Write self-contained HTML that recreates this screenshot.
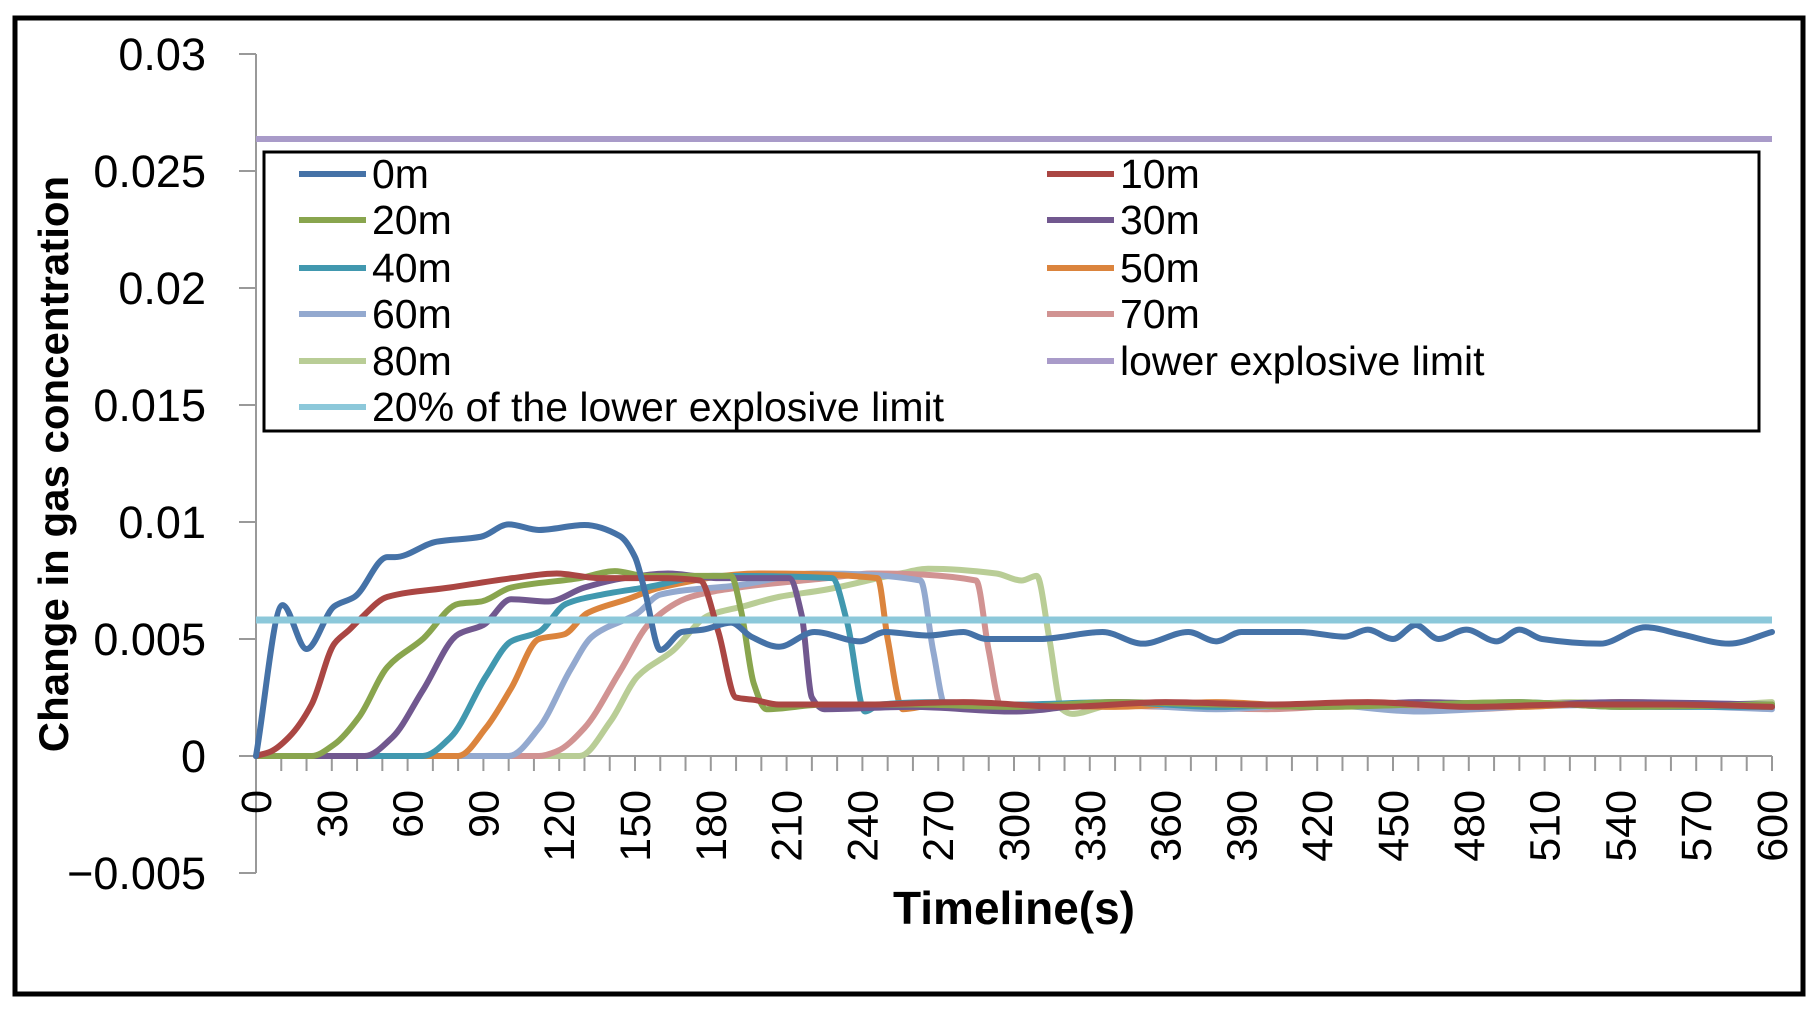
<!DOCTYPE html>
<html><head><meta charset="utf-8"><style>
html,body{margin:0;padding:0;background:#fff;}
body{width:1818px;height:1018px;overflow:hidden;font-family:"Liberation Sans",sans-serif;}
svg text{font-family:"Liberation Sans",sans-serif;}
</style></head><body>
<svg id="chart" width="1818" height="1018" xmlns="http://www.w3.org/2000/svg">
<rect x="15" y="18" width="1788" height="976" fill="#fff" stroke="#000" stroke-width="5"/>
<g id="axes"></g>
<g id="series"></g>
<g id="legend"></g>
<text transform="translate(68,464) rotate(-90)" text-anchor="middle" font-size="42" font-weight="bold">Change in gas concentration</text>
<text x="1014" y="924" text-anchor="middle" font-size="46" font-weight="bold">Timeline(s)</text>
</svg>
<script>
const yTicks=[0.03,0.025,0.02,0.015,0.01,0.005,0,-0.005];
const yTickLabels=["0.03","0.025","0.02","0.015","0.01","0.005","0","\u22120.005"];
const xTicks=[0,30,60,90,120,150,180,210,240,270,300,330,360,390,420,450,480,510,540,570,600];
const seriesNames=["0m","10m","20m","30m","40m","50m","60m","70m","80m"];
const colors=["#4572A7","#AA4643","#89A54E","#71588F","#4198AF","#DB843D","#93A9CF","#D19392","#B9CD96"];
const lelValue=0.02637;
const lel20Value=0.00581;
const t0=[0,10.5,20,31,39,52,55,71.5,89,100,112,130,144,150,154,160,168.6,177,188,196,207,221,239,249,266,280,289,310,335,351,369,380,390,413,431,440,450,459,468,479,491,500,509,532,550,564,583,600];
const v0=[0,0.00645,0.00457,0.0064,0.0068,0.0085,0.0085,0.00916,0.00937,0.0099,0.00966,0.00987,0.0094,0.0085,0.007,0.00453,0.0053,0.0054,0.0057,0.0051,0.00467,0.0053,0.0049,0.0053,0.00515,0.0053,0.005,0.005,0.0053,0.0048,0.0053,0.0049,0.0053,0.0053,0.0051,0.0054,0.005,0.0056,0.005,0.0054,0.0049,0.0054,0.005,0.0048,0.0055,0.0052,0.0048,0.0053];
const t10=[0,6,13,22,31,37,40.7,52,76.7,101.5,119,136,160,175.7,183,190,197,207,240,280,320,360,400,440,480,520,560,600];
const v10=[0,0.0002,0.0008,0.0022,0.0048,0.0054,0.0058,0.0068,0.0072,0.0076,0.0078,0.0076,0.0076,0.0075,0.0053,0.0025,0.0024,0.0022,0.0022,0.0023,0.0021,0.0023,0.0022,0.0023,0.0021,0.0022,0.0022,0.0021];
const t20=[0,22,31,41,52,66,80,89,101,128,142,154,188,192,197,202,225,260,300,340,380,420,460,500,540,600];
const v20=[0,0,0.0005,0.0017,0.0038,0.005,0.0065,0.0066,0.0072,0.0076,0.0079,0.0077,0.0077,0.0062,0.0031,0.002,0.0022,0.0022,0.0021,0.0023,0.0022,0.0021,0.0022,0.0023,0.0021,0.0022];
const t30=[0,43,54,66,80,90,101,115.6,130,145.6,163,183,211,216,220,225,260,300,340,380,420,460,500,540,600];
const v30=[0,0,0.0008,0.0028,0.0052,0.0056,0.0067,0.0066,0.0072,0.0076,0.0078,0.0076,0.0076,0.006,0.0025,0.002,0.0021,0.0019,0.0023,0.0022,0.0021,0.0023,0.0022,0.0023,0.0022];
const t40=[0,66,77,91,101,112,122.7,137,154,181,228,234,241,247,270,300,340,380,420,460,500,540,600];
const v40=[0,0,0.0008,0.0034,0.0049,0.0053,0.0065,0.0069,0.0072,0.0077,0.0076,0.0057,0.0019,0.0022,0.0023,0.0022,0.0023,0.0021,0.0022,0.0022,0.0023,0.0021,0.0021];
const t50=[0,80,91,101,112,122,131,147,160,199,246,250,256,270,300,340,380,420,460,500,540,600];
const v50=[0,0,0.0012,0.0029,0.005,0.0052,0.0061,0.0067,0.0072,0.0078,0.0076,0.005,0.002,0.0022,0.0022,0.0021,0.0023,0.0021,0.0022,0.0021,0.0023,0.0021];
const t60=[0,100,112,124.5,133,151,160,191,221.6,263,268,273,300,340,380,420,460,500,540,600];
const v60=[0,0,0.0012,0.0037,0.0051,0.0061,0.0069,0.0073,0.0078,0.0075,0.0045,0.0021,0.0021,0.0022,0.002,0.0022,0.0019,0.0021,0.0022,0.002];
const t70=[0,112,119,130,144,156,172,191,226,244,285,290,295,320,360,400,440,480,520,560,600];
const v70=[0,0,0.0002,0.0012,0.0036,0.0057,0.0068,0.0072,0.0076,0.0078,0.0075,0.0045,0.0021,0.0022,0.0021,0.002,0.0022,0.002,0.0022,0.0021,0.0022];
const t80=[0,128,140.4,151,165,179,193,207,225,255,266,293,303,309,314,319,323,340,370,400,430,460,490,520,550,580,600];
const v80=[0,0,0.0015,0.0034,0.0045,0.006,0.0064,0.0068,0.0071,0.0078,0.008,0.0078,0.0075,0.0077,0.005,0.002,0.0018,0.0022,0.0021,0.0022,0.0021,0.0022,0.0021,0.0023,0.0022,0.0022,0.0023];
const times=[t0,t10,t20,t30,t40,t50,t60,t70,t80];
const values=[v0,v10,v20,v30,v40,v50,v60,v70,v80];

const NS="http://www.w3.org/2000/svg";
const X0=256,X1=1772,Y0=756,PER=117/0.005;
function xS(t){return X0+(X1-X0)*t/600;}
function yS(v){return Y0-v*PER;}
function mk(tag,attrs,parent){const e=document.createElementNS(NS,tag);for(const k in attrs)e.setAttribute(k,attrs[k]);parent.appendChild(e);return e;}
const axes=document.getElementById('axes');
const yAxis=mk('line',{x1:X0,y1:yS(0.03),x2:X0,y2:yS(-0.005),stroke:'#999','stroke-width':2},axes);


yTicks.forEach((v,i)=>{
  const tk=mk('line',{x1:X0-17,y1:yS(v),x2:X0,y2:yS(v),stroke:'#999','stroke-width':2},axes);
  
  
  const tx=mk('text',{x:206,y:yS(v)+16,'text-anchor':'end','font-size':45},axes);
  
  
  tx.textContent=yTickLabels[i];
});
const xAxis=mk('line',{x1:X0,y1:Y0,x2:X1,y2:Y0,stroke:'#999','stroke-width':2},axes);


for(let t=0;t<=600;t+=10){
  const tk=mk('line',{x1:xS(t),y1:Y0,x2:xS(t),y2:Y0+15,stroke:'#999','stroke-width':2},axes);
  
  
}
xTicks.forEach(t=>{
  const tx=mk('text',{transform:`translate(${xS(t)+15},790) rotate(-90)`,'text-anchor':'end','font-size':43},axes);
  
  
  tx.textContent=String(t);
});
function smoothPath(ts,vs){
  const x=ts.map(xS),y=vs.map(yS),n=x.length;
  const d=[],m=new Array(n);
  for(let i=0;i<n-1;i++)d.push((y[i+1]-y[i])/(x[i+1]-x[i]));
  m[0]=d[0];m[n-1]=d[n-2];
  for(let i=1;i<n-1;i++){
    if(d[i-1]*d[i]<=0)m[i]=0;
    else{const h0=x[i]-x[i-1],h1=x[i+1]-x[i];const w1=2*h1+h0,w2=h1+2*h0;m[i]=(w1+w2)/(w1/d[i-1]+w2/d[i]);}
  }
  let p=`M${x[0]},${y[0]}`;
  for(let i=0;i<n-1;i++){
    const h=(x[i+1]-x[i])/3;
    p+=` C${x[i]+h},${y[i]+m[i]*h} ${x[i+1]-h},${y[i+1]-m[i+1]*h} ${x[i+1]},${y[i+1]}`;
  }
  return p;
}
const sg=document.getElementById('series');
const lel=mk('line',{x1:X0,y1:yS(lelValue),x2:X1,y2:yS(lelValue),stroke:'#A99BC9','stroke-width':6},sg);


for(let i=seriesNames.length-1;i>=0;i--){
  const pth=mk('path',{d:smoothPath(times[i],values[i]),fill:'none',stroke:colors[i],'stroke-width':6,'stroke-linejoin':'round','stroke-linecap':'round'},sg);
  
  
}
const l20=mk('line',{x1:X0,y1:yS(lel20Value),x2:X1,y2:yS(lel20Value),stroke:'#8CC8DA','stroke-width':7},sg);



const lg=document.getElementById('legend');
const box=mk('rect',{x:264,y:152,width:1495,height:279,fill:'#fff',stroke:'#000','stroke-width':3},lg);


const legNames=seriesNames.concat(["lower explosive limit","20% of the lower explosive limit"]);
const legColors=colors.concat(["#A99BC9","#8CC8DA"]);
const rows=[174,220,268,314,361,407];
legNames.forEach((n,i)=>{
  const col=i%2,row=Math.floor(i/2);
  const lx=col?1047:299,y=rows[row];
  const ln=mk('line',{x1:lx,y1:y,x2:lx+67,y2:y,stroke:legColors[i],'stroke-width':6},lg);
  
  
  const tx=mk('text',{x:lx+73,y:y+14,'font-size':41},lg);
  
  
  tx.textContent=n;
});
</script>
</body></html>
